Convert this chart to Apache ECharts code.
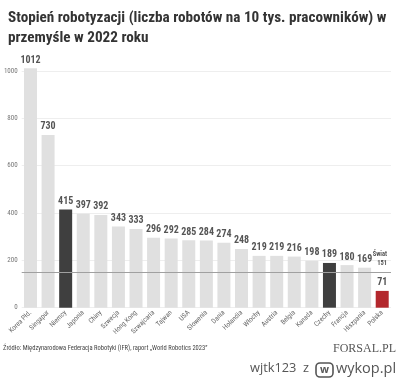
<!DOCTYPE html>
<html>
<head>
<meta charset="utf-8">
<script src="https://cdn.jsdelivr.net/npm/echarts@6/dist/echarts.min.js"></script>
<style>html,body{margin:0;padding:0;background:#fff}#c{width:400px;height:379px}</style>
</head>
<body>
<div id="c"></div>
<script>
const categories = ["Korea Płd.","Singapur","Niemcy","Japonia","Chiny","Szwecja","Hong Kong","Szwajcaria","Tajwan","USA","Słowenia","Dania","Holandia","Włochy","Austria","Belgia","Kanada","Czechy","Francja","Hiszpania","Polska"];
const values = [1012,730,415,397,392,343,333,296,292,285,284,274,248,219,219,216,198,189,180,169,71];
const highlightDark = ["Niemcy","Czechy"];
const highlightRed = ["Polska"];
const worldValue = 151;
const worldLabel = "Świat";
const yTicks = [0,200,400,600,800,1000];

const NARROW = "'Roboto Condensed','Liberation Sans Narrow','DejaVu Sans Condensed',sans-serif";
const chart = echarts.init(document.getElementById('c'), null, {renderer:'canvas'});

const barData = values.map((v,i)=>{
  const c = categories[i];
  let color = '#e0e0e0';
  if (highlightDark.includes(c)) color = '#3f3f3f';
  if (highlightRed.includes(c)) color = '#b3272c';
  return {value:v, itemStyle:{color}};
});

chart.setOption({
  animation:false,
  title:{
    text:"Stopień robotyzacji (liczba robotów na 10 tys. pracowników) w\nprzemyśle w 2022 roku",
    left:3, top:3,
    textStyle:{fontFamily:NARROW, fontSize:15.2, fontWeight:'bold', color:'#333', lineHeight:20}
  },
  grid:{left:21.7, right:9, top:71, bottom:71.3, containLabel:false},
  xAxis:{
    type:'category', data:categories,
    axisLine:{show:false}, axisTick:{show:false},
    axisLabel:{rotate:45, interval:0, fontSize:7, color:'#666', fontFamily:NARROW, margin:4}
  },
  yAxis:{
    type:'value', min:yTicks[0], max:yTicks[yTicks.length-1], interval:200,
    axisLine:{show:false}, axisTick:{show:false},
    axisLabel:{fontSize:7, color:'#777', fontFamily:NARROW, margin:4, formatter:(v)=>String(v)},
    splitLine:{lineStyle:{color:'#eeeeee', width:1}}
  },
  series:[{
    type:'bar', data:barData, barWidth:13, clip:false,
    label:{show:true, position:'top', distance:3, fontSize:10, fontWeight:'bold', color:'#555', fontFamily:NARROW},
    markLine:{
      silent:true, symbol:'none',
      lineStyle:{color:'#a0a0a0', width:1, type:'solid'},
      label:{show:true, position:'insideEndTop', formatter:worldLabel+'\n'+worldValue, fontSize:6.5, fontWeight:'bold', color:'#555', fontFamily:NARROW, lineHeight:9, distance:4},
      data:[{yAxis:worldValue}]
    }
  }],
  graphic:[
    {type:'text', left:3, top:345, style:{text:'Źródło: Międzynarodowa Federacja Robotyki (IFR), raport „World Robotics 2023”', fontSize:6.5, fill:'#444', fontFamily:NARROW}},
    {type:'text', right:4, top:343, style:{text:'FORSAL.PL', fontSize:12, fill:'#555', fontFamily:"'Liberation Serif',serif"}},
    {type:'text', left:250, top:362, style:{text:'wjtk123  z', fontSize:12.8, fill:'#555', fontFamily:"'Open Sans',sans-serif"}},
    {type:'rect', shape:{x:316, y:363, width:17, height:14, r:4}, style:{fill:'none', stroke:'#555', lineWidth:1.6}},
    {type:'text', x:324.5, y:370, style:{text:'w', align:'center', verticalAlign:'middle', fontSize:10.5, fontWeight:'bold', fill:'#555', fontFamily:"'Open Sans',sans-serif"}},
    {type:'text', left:336, top:361, style:{text:'wykop.pl', fontSize:14.5, fill:'#555', fontFamily:"'Open Sans',sans-serif"}}
  ]
});
</script>
</body>
</html>
